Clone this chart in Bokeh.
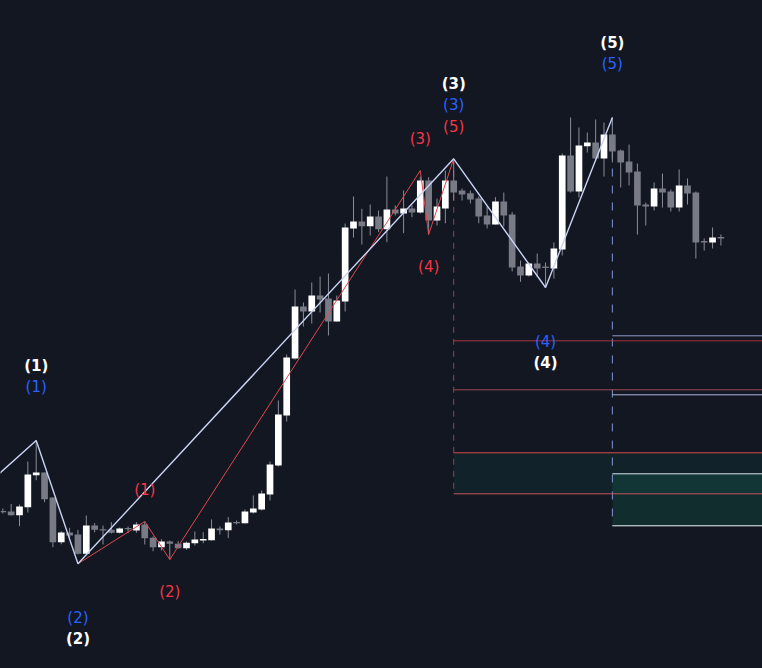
from bokeh.plotting import figure
from bokeh.models import Range1d, ColumnDataSource, GlobalInlineStyleSheet
from bokeh.core.properties import value
from bokeh.embed import file_html
from bokeh.resources import INLINE

# ---------------- data ----------------
opens = [157, 157, 153.3, 161.3, 193.3, 196, 171, 126.3, 136, 134,
         114.7, 143, 138.7, 138.7, 135.7, 140, 138, 144, 130.7, 121.3,
         127, 124.7, 120.3, 125.3, 128.5, 128.3, 140, 138.3, 146, 145.3,
         156, 159, 174, 203, 253, 310, 362, 357, 373, 370,
         347, 367, 440, 447, 442.3, 452, 439.3, 459, 455, 460,
         456, 488, 448, 460, 488, 478, 475.3, 470, 453, 444,
         467, 454, 402, 393, 405, 401.5, 400, 419, 513, 477,
         522.3, 526, 510, 534, 518, 507, 497, 464, 462, 480,
         477, 461, 483, 476, 427, 426, 431]
highs = [160, 164.5, 164, 207, 228, 196, 171, 137.3, 140.7, 138.7,
         153, 145.3, 143, 146.3, 141, 142, 146.3, 147, 132, 129.3,
         128, 127.3, 127, 137, 136.3, 149, 142, 151.3, 148, 159,
         173, 178, 207, 268, 314, 379, 366, 386, 392, 395,
         373, 445, 472, 459.7, 464, 458, 492, 463, 478, 463,
         492, 491.3, 470, 498, 509.7, 480, 478, 472, 462, 471.3,
         476, 456.3, 408, 406, 415, 406, 426, 515, 551, 541,
         536, 549, 546, 551, 519, 524, 505, 466, 486, 495,
         479, 499, 490, 477, 430, 441, 434]
lows = [155, 153, 142.3, 156, 188.3, 166.3, 121.3, 124.3, 130.3, 114,
        113.7, 136.3, 124, 135, 135, 135.5, 135.7, 124, 117.3, 118,
        109, 120, 118.7, 123, 125.3, 128, 134, 130.3, 144, 145,
        155, 158, 168, 202, 247, 309, 342, 345, 356, 333,
        347, 357, 431, 424, 433, 436.3, 426.3, 453, 435.3, 451.3,
        455, 434, 443, 445.3, 468, 468, 465, 445.3, 440, 444,
        442, 397, 386.7, 392, 392, 381, 390, 413, 476, 471,
        516, 508, 492, 506, 481, 483, 434, 443, 458, 461,
        457, 457, 464, 410, 418, 420, 423]
closes = [156.8, 153.3, 162, 194, 196, 169.3, 126.3, 136, 133, 114.7,
          143, 138.7, 138.5, 135.7, 140, 139.8, 144, 130.3, 121.3, 127,
          124.7, 120.3, 125.7, 129, 129, 140, 138.3, 146, 145.8, 157,
          160, 175, 204, 254, 311, 362, 357, 373, 369, 347,
          368, 441, 447, 442.3, 452, 439.3, 459, 455, 460, 456,
          488, 448, 462, 488, 476, 474, 469, 452, 444, 467,
          453, 401, 393, 405, 400, 401, 420, 513, 477, 523,
          526, 510, 534, 517, 506, 496, 463, 462, 480, 476,
          461, 483, 475, 426, 426.5, 431, 430.5]

# primary wave count (white / blue degrees share these pivots)
major_idx = [-1, 4, 9, 54, 65, 73]
major_price = [190.5, 228, 104.7, 509.7, 381, 551]
major_labels = ["", "(1)", "(2)", "(3)", "(4)", "(5)"]

# sub-wave count (red)
minor_idx = [9, 17, 20, 50, 51, 54]
minor_price = [104.7, 147, 109, 498, 434, 509.7]
minor_labels = ["", "(1)", "(2)", "(3)", "(4)", "(5)"]

# projection levels
red_start = 54
red_levels = [327.7, 278.7, 215.7, 174.7]
blue_start = 73
blue_levels = [332.7, 273.7, 194.7, 142.7]

# ---------------- styles ----------------
BG = "#131722"
UP = "#ffffff"
DOWN = "#787b86"
WICK = "#8a8d97"
RED = "#f23645"
BLUE = "#2962ff"
WHITE = "#ffffff"

W, H = 762, 668
X0, DX = 2.3, 8.35

p = figure(width=W, height=H, output_backend="svg", toolbar_location=None,
           x_range=Range1d(-X0 / DX, (W - X0) / DX), y_range=Range1d(0, H),
           background_fill_color=BG, border_fill_color=BG,
           min_border=0, outline_line_color=None)
p.xaxis.visible = False
p.yaxis.visible = False
p.xgrid.visible = False
p.ygrid.visible = False
p.stylesheets = [GlobalInlineStyleSheet(
    css="html, body {margin:0 !important; padding:0; background:#131722; overflow:hidden;}")]

XR = 100  # beyond right edge

# zones
p.quad(left=[red_start], right=[XR], top=[red_levels[2]], bottom=[red_levels[3]],
       fill_color="#089981", fill_alpha=0.09, line_color=None)
p.quad(left=[blue_start], right=[XR], top=[blue_levels[2]], bottom=[blue_levels[3]],
       fill_color="#10a070", fill_alpha=0.16, line_color=None)

# vertical dashed
p.segment(x0=[red_start], x1=[red_start], y0=[major_price[3]], y1=[min(red_levels)],
          line_color="#a83a44", line_width=1, line_dash="6 6")
p.segment(x0=[blue_start], x1=[blue_start], y0=[major_price[5]], y1=[min(blue_levels)],
          line_color="#8197d0", line_width=1, line_dash="8 9")

# horizontal levels
red_cols = ["#a8323c", "#9c4a55", "#d94a4f", "#c8505a"]
blue_cols = ["#8e9cc6", "#aab6da", "#dbe4ee", "#eef2f6"]
p.segment(x0=[red_start] * 4, x1=[XR] * 4, y0=red_levels, y1=red_levels,
          line_color=red_cols, line_width=1)
p.segment(x0=[blue_start] * 4, x1=[XR] * 4, y0=blue_levels, y1=blue_levels,
          line_color=blue_cols, line_width=1)

# candles
n = len(opens)
idx = list(range(n))
up = [c >= o for o, c in zip(opens, closes)]
tops, bots = [], []
for o, c in zip(opens, closes):
    t, b = max(o, c), min(o, c)
    if t - b < 1.4:
        m = (t + b) / 2
        t, b = m + 0.7, m - 0.7
    tops.append(t)
    bots.append(b)
src = ColumnDataSource(dict(x=idx, h=highs, l=lows, t=tops, b=bots,
                            col=[UP if u else DOWN for u in up]))
p.segment(x0="x", x1="x", y0="l", y1="h", source=src, line_color=WICK, line_width=1)
p.vbar(x="x", width=0.8, top="t", bottom="b", source=src,
       fill_color="col", line_color=None)

# zigzags
p.line(minor_idx, minor_price, line_color="#e0474e", line_width=1)
p.line(major_idx, major_price, line_color="#c9d3f2", line_width=1.4)


def label_rows(ix, pr, labels, offset):
    xs, ys, ts, offs = [], [], [], []
    for k in range(1, len(ix)):
        hi = pr[k] > pr[k - 1]
        xs.append(ix[k])
        ys.append(pr[k])
        ts.append(labels[k])
        offs.append(-offset if hi else offset)
    return dict(x=xs, y=ys, t=ts, off=offs)


for data, col, off, style in [
    (label_rows(minor_idx, minor_price, minor_labels, 32), RED, 32, "normal"),
    (label_rows(major_idx, major_price, major_labels, 54), BLUE, 54, "normal"),
    (label_rows(major_idx, major_price, major_labels, 75), WHITE, 75, "bold"),
]:
    p.text(x="x", y="y", text="t", y_offset="off", source=ColumnDataSource(data),
           text_color=col, text_align="center", text_baseline="middle",
           text_font=value("DejaVu Sans"), text_font_size="15px",
           text_font_style=style)

open("out.html", "w").write(file_html(p, INLINE))
